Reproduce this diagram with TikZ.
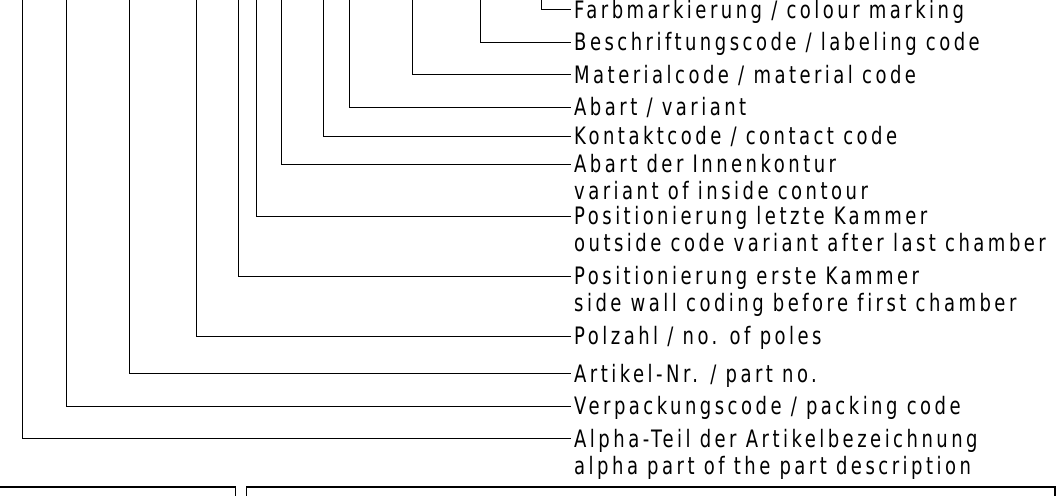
\documentclass[tikz,border=0pt]{standalone}
\usepackage{fontspec}
\newfontfamily\cad[FakeStretch=0.75,LetterSpace=14.5,Ligatures={NoCommon}]{DejaVu Sans}
\begin{document}
\begin{tikzpicture}[x=1pt,y=-1pt,
  lead/.style={line width=1pt,black},
  lbl/.style={anchor=west,inner xsep=3pt,inner ysep=0pt,text height=17pt,text depth=0pt,
    font=\cad\fontsize{24}{27}\selectfont},
  boxline/.style={line width=1.2pt,black}]
\useasboundingbox (0,0) rectangle (1064,495);
% labels
\node[lbl] (farb)  at (571,10)    {Farbmarkierung / colour marking};
\node[lbl] (besch) at (571,42.3)  {Beschriftungscode / labeling code};
\node[lbl] (mat)   at (571,74.7)  {Materialcode / material code};
\node[lbl] (abart) at (571,107)   {Abart / variant};
\node[lbl] (kont)  at (571,136)   {Kontaktcode / contact code};
\node[lbl] (innen) at (571,164.3) {Abart der Innenkontur};
\node[lbl] (innenb) at (571,191)  {variant of inside contour};
\node[lbl] (letzt) at (571,216.3) {Positionierung letzte Kammer};
\node[lbl] (letztb) at (571,243)  {outside code variant after last chamber};
\node[lbl] (erst)  at (571,276.3) {Positionierung erste Kammer};
\node[lbl] (erstb) at (571,303)   {side wall coding before first chamber};
\node[lbl] (pol)   at (571,336)   {Polzahl / no. of poles};
\node[lbl] (art)   at (571,373.7) {Artikel-Nr. / part no.};
\node[lbl] (verp)  at (571,406)   {Verpackungscode / packing code};
\node[lbl] (alpha) at (571,438.7) {Alpha-Teil der Artikelbezeichnung};
\node[lbl] (alphab) at (571,465.5){alpha part of the part description};
% top ends of leaders
\coordinate (t1)  at (22,0);
\coordinate (t2)  at (66.3,0);
\coordinate (t3)  at (129.7,0);
\coordinate (t4)  at (196.7,0);
\coordinate (t5)  at (238,0);
\coordinate (t6)  at (256,0);
\coordinate (t7)  at (281.7,0);
\coordinate (t8)  at (323.3,0);
\coordinate (t9)  at (349.3,0);
\coordinate (t10) at (412.5,0);
\coordinate (t11) at (480.7,0);
\coordinate (t12) at (541.3,0);
% leaders
\draw[lead] (t1)  |- (alpha.west);
\draw[lead] (t2)  |- (verp.west);
\draw[lead] (t3)  |- (art.west);
\draw[lead] (t4)  |- (pol.west);
\draw[lead] (t5)  |- (erst.west);
\draw[lead] (t6)  |- (letzt.west);
\draw[lead] (t7)  |- (innen.west);
\draw[lead] (t8)  |- (kont.west);
\draw[lead] (t9)  |- (abart.west);
\draw[lead] (t10) |- (mat.west);
\draw[lead] (t11) |- (besch.west);
\draw[lead] (t12) |- (farb.west);
% bottom frames
\draw[boxline] (0,487) -- (235.7,487) -- (235.7,496);
\draw[boxline] (246.7,496) -- (246.7,487) -- (1055,487) -- (1055,496);
\end{tikzpicture}
\end{document}
